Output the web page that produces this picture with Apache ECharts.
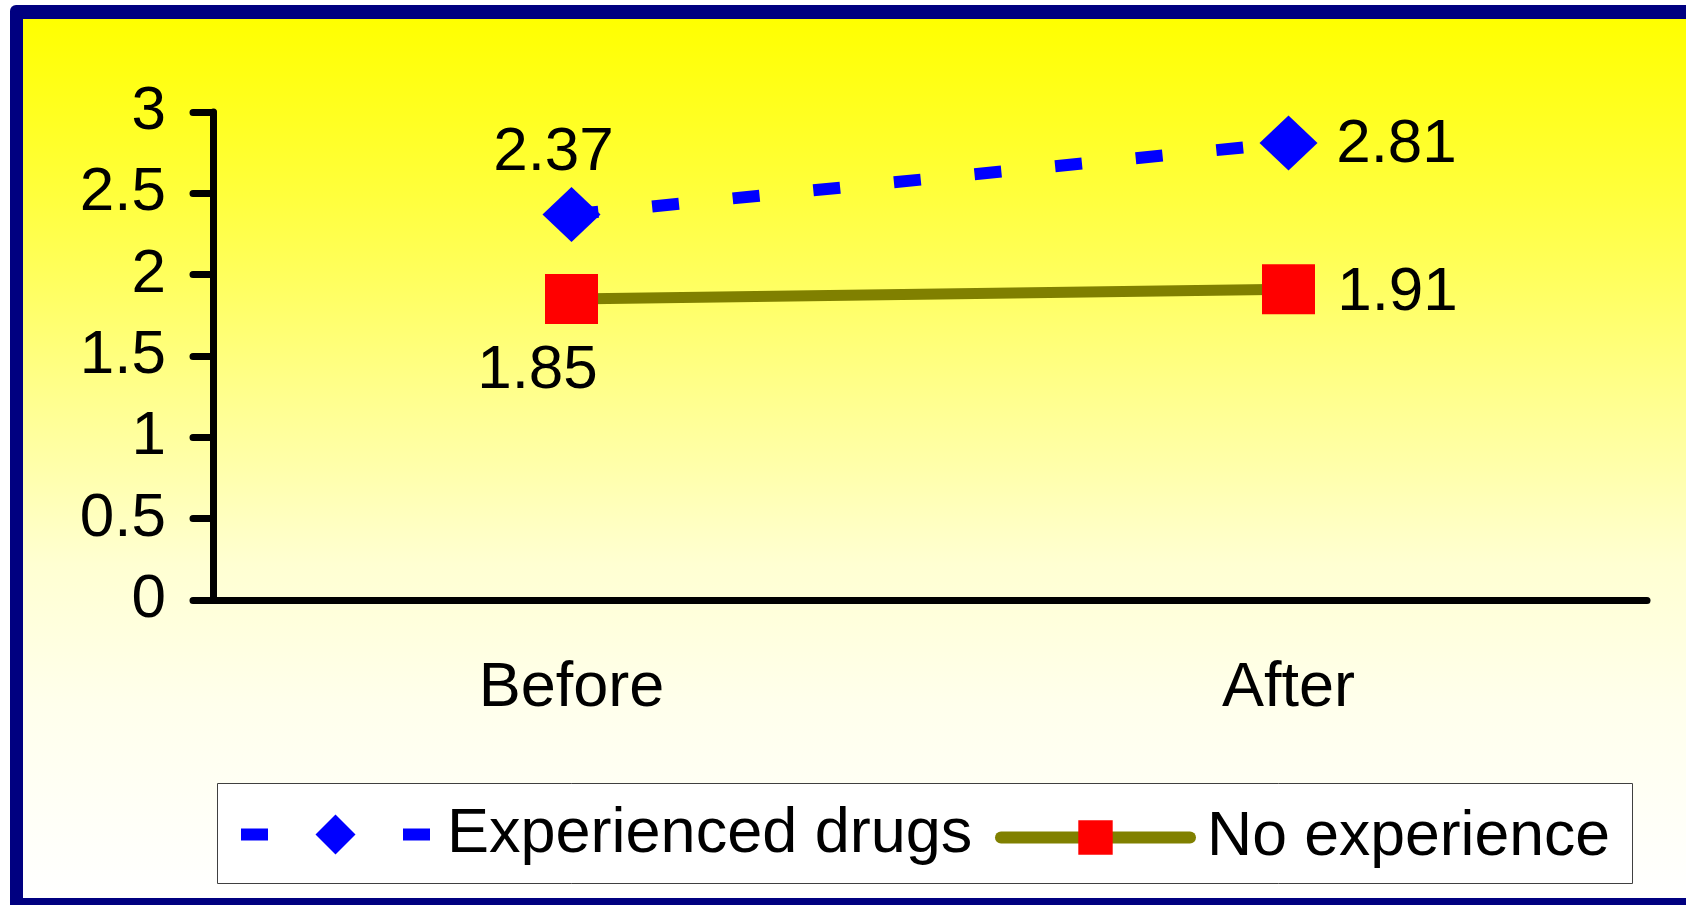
<!DOCTYPE html>
<html>
<head>
<meta charset="utf-8">
<script src="https://cdn.jsdelivr.net/npm/echarts@6/dist/echarts.min.js"></script>
<style>
  html, body { margin: 0; padding: 0; background: #fff; }
  #main { width: 1686px; height: 905px; }
</style>
</head>
<body>
<div id="main"></div>
<script>
var categories = ['Before', 'After'];
var experienced = [2.37, 2.81];
var noExperience = [1.85, 1.91];
var seriesNames = ['Experienced drugs', 'No experience'];

// where each value label sits relative to its marker
var expLabelOffset = [[-18, -62], [108, 2]];
var noExpLabelOffset = [[-34, 72], [109, 4]];

var font = "'Liberation Sans', Arial, sans-serif";
var chart = echarts.init(document.getElementById('main'));

function withLabels(values, offsets) {
    return values.map(function (v, i) {
        return { value: v, label: { offset: offsets[i] } };
    });
}

chart.setOption({
    animation: false,
    graphic: [
        {
            type: 'rect', z: -100, silent: true,
            shape: { x: 10, y: 5, width: 1700, height: 920, r: [6, 0, 0, 0] },
            style: { fill: '#000080' }
        },
        {
            type: 'rect', z: -99, silent: true,
            shape: { x: 23, y: 19, width: 1700, height: 879 },
            style: {
                fill: new echarts.graphic.LinearGradient(0, 0, 0, 1, [
                    { offset: 0, color: '#FFFF00' },
                    { offset: 0.2, color: '#FFFF3C' },
                    { offset: 0.47, color: '#FFFF9C' },
                    { offset: 0.62, color: '#FFFFD2' },
                    { offset: 0.78, color: '#FFFFEC' },
                    { offset: 1, color: '#FFFFFF' }
                ])
            }
        },
        {
            type: 'rect', z: -98, silent: true,
            shape: { x: 217.5, y: 783.5, width: 1415, height: 100 },
            style: { fill: '#FFFFFF', stroke: '#404040', lineWidth: 1 }
        }
    ],
    grid: { left: 213, right: 39, top: 112, bottom: 305 },
    legend: [
        {
            data: [seriesNames[0]],
            left: 235, top: 803, padding: 0,
            itemWidth: 189, itemHeight: 50,
            selectedMode: false,
            lineStyle: { width: 12 },
            textStyle: { fontSize: 63, fontFamily: font, color: '#000', lineHeight: 50, padding: [0, 0, 0, 12] }
        },
        {
            data: [seriesNames[1]],
            left: 995, top: 806, padding: 0,
            itemWidth: 189, itemHeight: 43,
            selectedMode: false,
            lineStyle: { width: 12, cap: 'round' },
            textStyle: { fontSize: 62.5, fontFamily: font, color: '#000', lineHeight: 43, padding: [0, 0, 0, 12] }
        }
    ],
    xAxis: {
        type: 'category',
        data: categories,
        axisLine: { lineStyle: { color: '#000', width: 7, cap: 'round' } },
        axisTick: { length: 20, lineStyle: { color: '#000', width: 7, cap: 'round' } },
        axisLabel: { fontSize: 63, fontFamily: font, color: '#000', margin: 57, lineHeight: 63 }
    },
    yAxis: {
        type: 'value',
        min: 0, max: 3, interval: 0.5,
        splitLine: { show: false },
        axisLine: { show: true, lineStyle: { color: '#000', width: 7, cap: 'round' } },
        axisTick: { show: true, length: 20, lineStyle: { color: '#000', width: 7, cap: 'round' } },
        axisLabel: { fontSize: 62, fontFamily: font, color: '#000', margin: 47 }
    },
    series: [
        {
            name: seriesNames[0],
            type: 'line',
            data: withLabels(experienced, expLabelOffset),
            symbol: 'diamond',
            symbolSize: [58, 55],
            itemStyle: { color: '#0000FF' },
            lineStyle: { color: '#0000FF', width: 12, type: [27, 54], cap: 'butt' },
            label: {
                show: true, position: 'inside', color: '#000',
                fontSize: 62, fontFamily: font
            }
        },
        {
            name: seriesNames[1],
            type: 'line',
            data: withLabels(noExperience, noExpLabelOffset),
            symbol: 'rect',
            symbolSize: [53, 50],
            itemStyle: { color: '#FF0000' },
            lineStyle: { color: '#808000', width: 11, cap: 'round' },
            label: {
                show: true, position: 'inside', color: '#000',
                fontSize: 62, fontFamily: font
            }
        }
    ]
});
</script>
</body>
</html>
